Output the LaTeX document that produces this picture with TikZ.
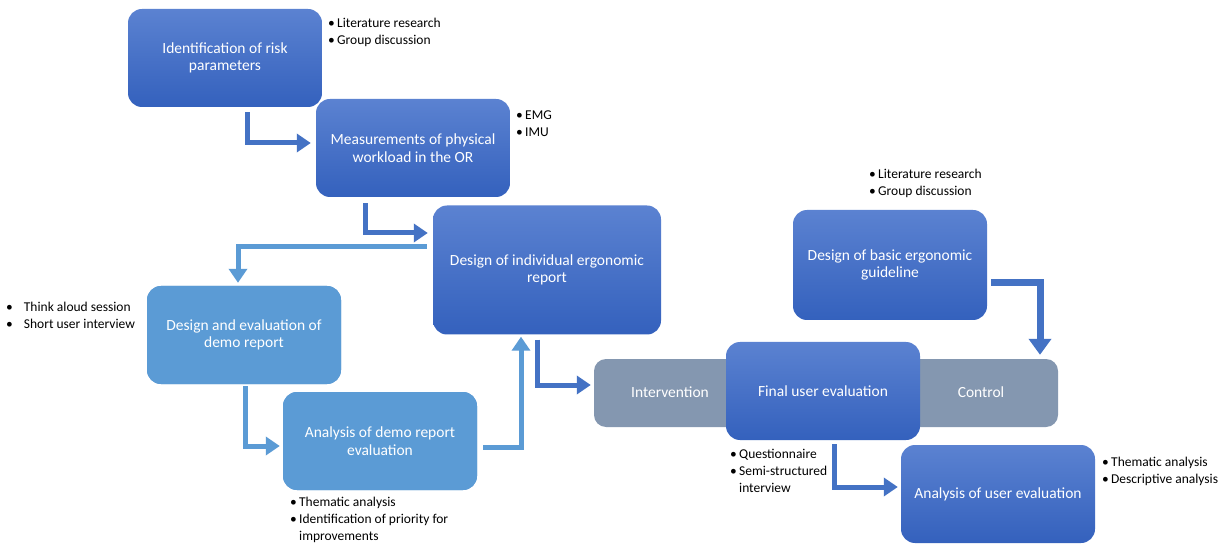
\documentclass[tikz,border=0pt]{standalone}
\usepackage{fontspec}
\setmainfont{Carlito}
\usetikzlibrary{arrows.meta}
\definecolor{boxtop}{HTML}{5B82D1}
\definecolor{boxbot}{HTML}{3461BD}
\definecolor{lightbox}{HTML}{5B9BD5}
\definecolor{greybar}{HTML}{8497B0}
\definecolor{arrowdark}{HTML}{4472C4}
\definecolor{arrowlight}{HTML}{5B9BD5}
\begin{document}
\begin{tikzpicture}[x=1pt,y=-1pt,
    dark node/.style={rounded corners=14pt,top color=boxtop,bottom color=boxbot,text=white,
        minimum width=194pt,minimum height=98pt,align=center,inner sep=0pt,
        font=\fontsize{15.5}{17.5}\selectfont},
    light node/.style={dark node,fill=lightbox,top color=lightbox,bottom color=lightbox},
    bar node/.style={rounded corners=12pt,fill=greybar,minimum width=464pt,minimum height=68pt,inner sep=0pt},
    bar text/.style={text=white,font=\fontsize{15.5}{17.5}\selectfont},
    note/.style={anchor=north west,align=left,inner sep=0pt,font=\fontsize{13.5}{17}\selectfont},
    dark arrow/.style={draw=arrowdark,line width=5pt,-{Triangle[width=18pt,length=14pt]}},
    light arrow/.style={draw=arrowlight,line width=5pt,-{Triangle[width=18pt,length=14pt]}}
  ]
  \useasboundingbox[fill=white] (0,0) rectangle (1229,545);
  % boxes
  \node[dark node] (risk) at (225,58) {Identification of risk\\parameters};
  \node[dark node] (meas) at (413,148) {Measurements of physical\\workload in the OR};
  \node[dark node,minimum width=228pt,minimum height=129pt] (indiv) at (547,270) {Design of individual ergonomic\\report};
  \node[light node] (demo) at (244,335) {Design and evaluation of\\demo report};
  \node[light node] (anademo) at (380,441) {Analysis of demo report\\evaluation};
  \node[bar node] (bar) at (826,393) {};
  \node[bar text] (interv) at (670,392) {Intervention};
  \node[bar text] (ctrl) at (981,392) {Control};
  \node[dark node] (final) at (823,391) {Final user evaluation};
  \node[dark node,minimum height=110pt] (basic) at (890,265) {Design of basic ergonomic\\guideline};
  \node[dark node] (anauser) at (998,494) {Analysis of user evaluation};
  % notes
  \node[note] (n1) at (328,18) {\textbullet\,Literature research\\\textbullet\,Group discussion};
  \node[note] (n2) at (516,111) {\textbullet\,EMG\\\textbullet\,IMU};
  \node[note] (n3) at (869,169) {\textbullet\,Literature research\\\textbullet\,Group discussion};
  \node[note] (n4) at (6,302) {\textbullet\hspace{11pt}Think aloud session\\\textbullet\hspace{11pt}Short user interview};
  \node[note] (n5) at (290,497) {\textbullet\,Thematic analysis\\\textbullet\,Identification of priority for\\\phantom{\textbullet\,}improvements};
  \node[note] (n6) at (730,449) {\textbullet\,Questionnaire\\\textbullet\,Semi-structured\\\phantom{\textbullet\,}interview};
  \node[note] (n7) at (1102,457) {\textbullet\,Thematic analysis\\\textbullet\,Descriptive analysis};
  % arrows
  \draw[dark arrow,shorten <=5pt,shorten >=5pt] ([xshift=22pt]risk.south) |- ([yshift=5pt]meas.west);
  \draw[dark arrow,shorten <=6pt,shorten >=5pt] ([xshift=-48pt]meas.south) |- ([yshift=37pt]indiv.west);
  \draw[light arrow,shorten <=6pt,shorten >=3pt] ([yshift=23pt]indiv.west) -| ([xshift=-6pt]demo.north);
  \draw[light arrow,shorten <=2pt,shorten >=3pt] ([xshift=1pt]demo.south) |- ([yshift=-5pt]anademo.west);
  \draw[light arrow,shorten <=6pt,shorten >=2pt] ([yshift=-6pt]anademo.east) -| ([xshift=-26pt]indiv.south);
  \draw[dark arrow,shorten <=5pt,shorten >=3pt] ([xshift=-10pt]indiv.south) |- ([yshift=8pt]bar.west);
  \draw[dark arrow,line width=7pt,-{Triangle[width=22pt,length=16pt]},shorten <=4pt,shorten >=4pt] ([yshift=-18pt]basic.east) -| ([xshift=214pt]bar.north);
  \draw[dark arrow,shorten <=4pt,shorten >=3pt] ([xshift=11pt]final.south) |- ([yshift=7pt]anauser.west);
\end{tikzpicture}
\end{document}
